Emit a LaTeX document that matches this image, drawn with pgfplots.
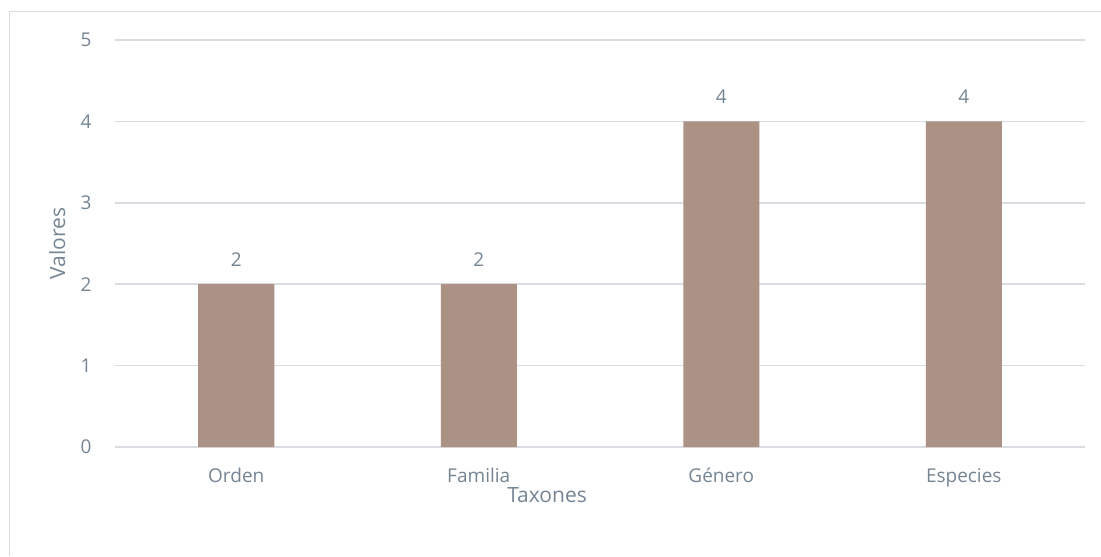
\documentclass[border=0pt]{standalone}
\usepackage{fontspec}
\setmainfont{Open Sans}
\usepackage{pgfplots}
\pgfplotsset{compat=1.18}
\definecolor{txt}{RGB}{118,133,148}
\definecolor{gridc}{RGB}{217,221,226}
\definecolor{framec}{RGB}{217,220,220}
\definecolor{barc}{RGB}{172,145,133}
\begin{document}
\begin{tikzpicture}
\useasboundingbox (-57.5pt,-54.5pt) rectangle (493pt,223.5pt);
\fill[white] (-57.5pt,-54.5pt) rectangle (493pt,223.5pt);
\draw[framec, line width=0.75pt] (-52.75pt,-54.5pt) -- (-52.75pt,217.75pt) -- (493pt,217.75pt);
\begin{axis}[
  scale only axis,
  width=485pt, height=203.5pt,
  xmin=-0.5, xmax=3.5, ymin=0, ymax=5,
  ybar, bar width=38pt,
  xtick={0,1,2,3},
  xticklabels={Orden,Familia,Género,Especies},
  ytick={0,1,2,3,4,5},
  ymajorgrids,
  grid style={gridc, line width=0.75pt},
  axis line style={draw=none},
  major tick length=0pt,
  tick label style={font=\fontsize{9.5pt}{11pt}\selectfont, text=txt},
  /pgf/number format/assume math mode=true,
  yticklabel style={anchor=east, inner sep=0pt, xshift=-11.5pt},
  xticklabel style={anchor=north, inner sep=0pt, yshift=-10.5pt},
  xlabel={Taxones},
  ylabel={Valores},
  label style={font=\fontsize{10.5pt}{12pt}\selectfont, text=txt},
  xlabel style={at={(rel axis cs:0.4454,0)}, anchor=base, inner sep=0pt, yshift=-27.5pt},
  ylabel style={at={(rel axis cs:-0.05155,0.5)}, anchor=base, inner sep=0pt},
  nodes near coords,
  nodes near coords style={anchor=base, inner sep=0pt, yshift=9pt, font=\fontsize{9.5pt}{11pt}\selectfont, text=txt},
]
\addplot[fill=barc, draw=none] coordinates {(0,2) (1,2) (2,4) (3,4)};
\end{axis}
\end{tikzpicture}
\end{document}
